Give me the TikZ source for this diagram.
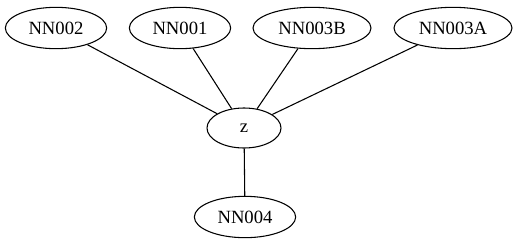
\documentclass[tikz,border=0pt]{standalone}
\usepackage{fontspec}
\setmainfont{Liberation Serif}
\usepackage{tikz}
\usetikzlibrary{positioning, shapes, shapes.geometric}
\tikzset{gvnode/.style={draw, ellipse, line width=0.8pt, inner sep=0pt, minimum width=76pt, minimum height=31pt, font=\fontsize{14}{16}\selectfont}}
\tikzset{gvwide/.style={gvnode, minimum width=88.5pt}}
\tikzset{gvedge/.style={draw, line width=0.8pt}}

\begin{document}
\begin{tikzpicture}[x=0.75pt, y=-0.75pt]
		\useasboundingbox (0,0) rectangle (517,251);
		% top row
		\node[gvnode] (nn002) at (56,28) {NN002};
		\node[gvnode] (nn001) at (180,28) {NN001};
		\node[gvwide] (nn003b) at (312,28) {NN003B};
		\node[gvwide] (nn003a) at (453,28) {NN003A};
		% hub and the one below it
		\node[gvnode, minimum width=55.5pt, minimum height=30pt] (z) at (244,128) {z};
		\node[gvnode] (nn004) at (245,217) {NN004};
		\draw[gvedge] (z) -- (nn002);
		\draw[gvedge] (z) -- (nn001);
		\draw[gvedge] (z) -- (nn003b);
		\draw[gvedge] (z) -- (nn003a);
		\draw[gvedge] (z) -- (nn004);
	\end{tikzpicture}
\end{document}
